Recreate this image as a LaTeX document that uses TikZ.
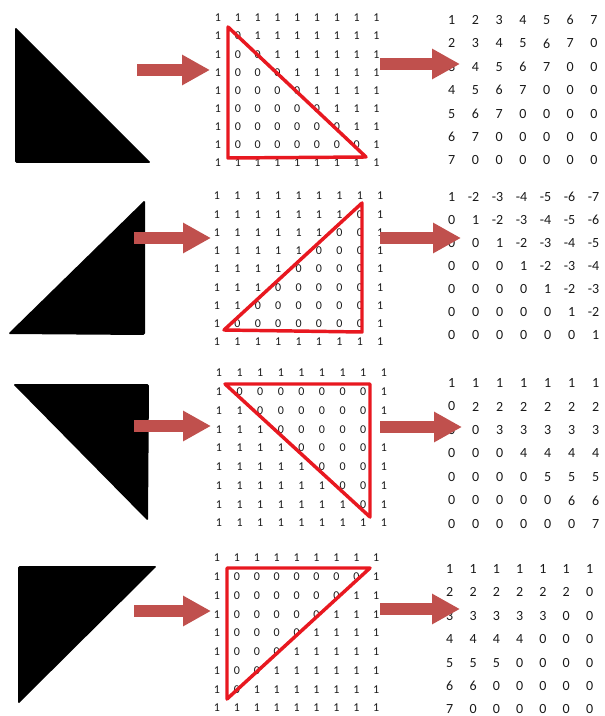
\documentclass[tikz,border=0pt]{standalone}
\usepackage{fontspec}
\setmainfont{Carlito}
\usetikzlibrary{arrows.meta}
\definecolor{arrowred}{RGB}{192,80,77}
\definecolor{edgered}{RGB}{232,24,32}

% 9x9 grid of bits: #1 name, #2 x0, #3 dx, #4 y0, #5 dy, #6 rows
\newcommand\bitgrid[6]{%
  \foreach \r [count=\i] in {#6}{
    \foreach \v [count=\j] in \r{
      \node[cell] (#1-\i-\j) at ({#2+(\j-1)*#3},{#4+(\i-1)*#5}) {\v};
    }
  }
}
% 7x7 result matrix, digits right aligned: same arguments
\newcommand\resmatrix[6]{%
  \foreach \r [count=\i] in {#6}{
    \foreach \v [count=\j] in \r{
      \node[entry] (#1-\i-\j) at ({#2+3.6+(\j-1)*#3},{#4+(\i-1)*#5}) {\v};
    }
  }
}

\begin{document}
\begin{tikzpicture}[x=0.75pt,y=-0.75pt,
  cell/.style={inner sep=0pt, font=\fontsize{9}{10}\selectfont, text=black!90},
  entry/.style={inner sep=0pt, anchor=east, font=\fontsize{10.5}{12}\selectfont, text=black!90},
  blockarrow/.style={draw=arrowred, line width=8.5pt, -{Triangle[length=21pt,width=21.5pt]}},
  outline/.style={draw=edgered, line width=2.6pt, line join=round},
  solidshape/.style={fill=black, rounded corners=1.2pt}]
\useasboundingbox (0,0) rectangle (605,716);

% ---- black source triangles ----
\fill[solidshape] (15,27) -- (15,163) -- (151,163) -- cycle;
\fill[solidshape] (8,334) -- (145,200) -- (145,335) -- cycle;
\fill[solidshape] (13,384) -- (149,384) -- (148,521) -- cycle;
\fill[solidshape] (18,566) -- (157,566) -- (18,704) -- cycle;

% ---- bit grids ----
\bitgrid{ga}{218}{19.8}{18}{18.1}{
  {1,1,1,1,1,1,1,1,1},{1,0,1,1,1,1,1,1,1},{1,0,0,1,1,1,1,1,1},
  {1,0,0,0,1,1,1,1,1},{1,0,0,0,0,1,1,1,1},{1,0,0,0,0,0,1,1,1},
  {1,0,0,0,0,0,0,1,1},{1,0,0,0,0,0,0,0,1},{1,1,1,1,1,1,1,1,1}}
\bitgrid{gb}{217}{20.4}{196}{18.25}{
  {1,1,1,1,1,1,1,1,1},{1,1,1,1,1,1,1,0,1},{1,1,1,1,1,1,0,0,1},
  {1,1,1,1,1,0,0,0,1},{1,1,1,1,0,0,0,0,1},{1,1,1,0,0,0,0,0,1},
  {1,1,0,0,0,0,0,0,1},{1,0,0,0,0,0,0,0,1},{1,1,1,1,1,1,1,1,1}}
\bitgrid{gc}{219}{20.6}{373}{18.75}{
  {1,1,1,1,1,1,1,1,1},{1,0,0,0,0,0,0,0,1},{1,1,0,0,0,0,0,0,1},
  {1,1,1,0,0,0,0,0,1},{1,1,1,1,0,0,0,0,1},{1,1,1,1,1,0,0,0,1},
  {1,1,1,1,1,1,0,0,1},{1,1,1,1,1,1,1,0,1},{1,1,1,1,1,1,1,1,1}}
\bitgrid{gd}{217}{19.9}{558}{18.75}{
  {1,1,1,1,1,1,1,1,1},{1,0,0,0,0,0,0,0,1},{1,0,0,0,0,0,0,1,1},
  {1,0,0,0,0,0,1,1,1},{1,0,0,0,0,1,1,1,1},{1,0,0,0,1,1,1,1,1},
  {1,0,0,1,1,1,1,1,1},{1,0,1,1,1,1,1,1,1},{1,1,1,1,1,1,1,1,1}}

% ---- red outlines over the grids ----
\draw[outline] (228,27) -- (228,158) -- (366,157) -- cycle;
\draw[outline] (224,330) -- (362,203) -- (362,332) -- cycle;
\draw[outline] (225,384) -- (370,384) -- (370,517) -- cycle;
\draw[outline] (227,568) -- (370,568) -- (227,699) -- cycle;

% ---- result matrices ----
\resmatrix{ma}{452}{23.7}{20}{23.4}{
  {1,2,3,4,5,6,7},{2,3,4,5,6,7,0},{3,4,5,6,7,0,0},{4,5,6,7,0,0,0},
  {5,6,7,0,0,0,0},{6,7,0,0,0,0,0},{7,0,0,0,0,0,0}}
\resmatrix{mb}{452}{24}{197}{23}{
  {1,-2,-3,-4,-5,-6,-7},{0,1,-2,-3,-4,-5,-6},{0,0,1,-2,-3,-4,-5},
  {0,0,0,1,-2,-3,-4},{0,0,0,0,1,-2,-3},{0,0,0,0,0,1,-2},{0,0,0,0,0,0,1}}
\resmatrix{mc}{452}{24}{383}{23.5}{
  {1,1,1,1,1,1,1},{0,2,2,2,2,2,2},{0,0,3,3,3,3,3},{0,0,0,4,4,4,4},
  {0,0,0,0,5,5,5},{0,0,0,0,0,6,6},{0,0,0,0,0,0,7}}
\resmatrix{md}{450}{23.3}{569}{23.4}{
  {1,1,1,1,1,1,1},{2,2,2,2,2,2,0},{3,3,3,3,3,0,0},{4,4,4,4,0,0,0},
  {5,5,5,0,0,0,0},{6,6,0,0,0,0,0},{7,0,0,0,0,0,0}}

% ---- arrow end points ----
\coordinate (la1) at (137,70);  \coordinate (lb1) at (210,70);
\coordinate (la2) at (134,238); \coordinate (lb2) at (211,238);
\coordinate (la3) at (134,426); \coordinate (lb3) at (211,426);
\coordinate (la4) at (134,611); \coordinate (lb4) at (211,611);
\coordinate (ra1) at (380,64);  \coordinate (rb1) at (460,64);
\coordinate (ra2) at (380,238); \coordinate (rb2) at (461,238);
\coordinate (ra3) at (380,427); \coordinate (rb3) at (462,427);
\coordinate (ra4) at (380,609); \coordinate (rb4) at (460,609);

% ---- block arrows ----
\foreach \k in {1,2,3,4}{
  \draw[blockarrow] (la\k) -- (lb\k);
  \draw[blockarrow] (ra\k) -- (rb\k);
}
\end{tikzpicture}
\end{document}
